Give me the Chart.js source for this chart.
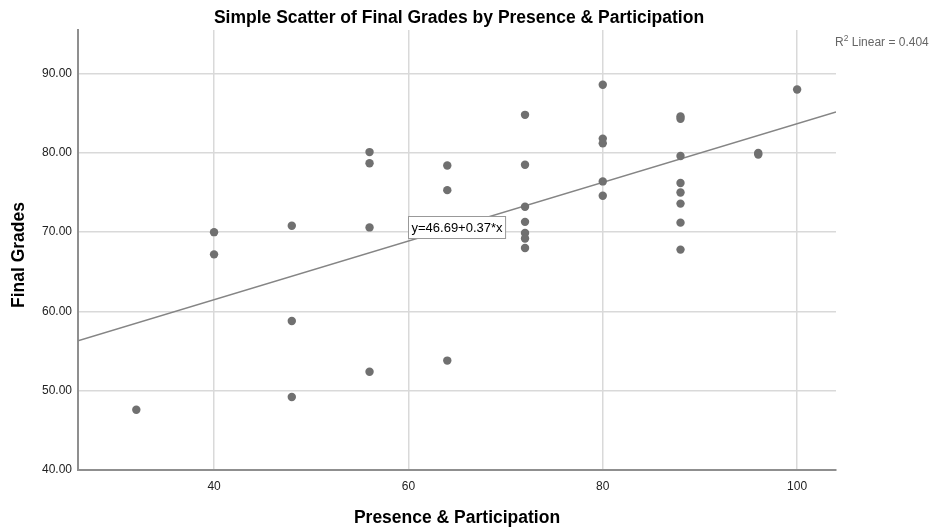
<!DOCTYPE html>
<html>
<head>
<meta charset="utf-8">
<script src="https://cdn.jsdelivr.net/npm/chart.js@4/dist/chart.umd.min.js"></script>
<style>
  html, body { margin: 0; padding: 0; background: #fff; }
  #wrap { width: 933px; height: 529px; }
</style>
</head>
<body>
<div id="wrap"><canvas id="chart" width="933" height="529"></canvas></div>
<script>
// presence & participation score for each student
const presence = [
  32,
  40, 40,
  48, 48, 48,
  56, 56, 56, 56,
  64, 64, 64,
  72, 72, 72, 72, 72, 72, 72,
  80, 80, 80, 80, 80,
  88, 88, 88, 88, 88, 88, 88, 88,
  96, 96,
  100
];
// final grade for the same students
const finalGrades = [
  47.6,
  70.0, 67.2,
  70.8, 58.8, 49.2,
  80.1, 78.7, 70.6, 52.4,
  78.4, 75.3, 53.8,
  84.8, 78.5, 73.2, 71.3, 69.9, 69.2, 68.0,
  88.6, 81.8, 81.2, 76.4, 74.6,
  84.6, 84.3, 79.6, 76.2, 75.0, 73.6, 71.2, 67.8,
  80.0, 79.8,
  88.0
];

// fitted line y = a + b*x
const fitIntercept = 46.69;
const fitSlope = 0.37;
const rSquared = 0.404;

const xTicks = [40, 60, 80, 100];
const yTicks = [40, 50, 60, 70, 80, 90];
const xRange = [26, 104];
const yRange = [40, 95.5];

const FONT = '"Liberation Sans", Arial, sans-serif';

const fitLine = xRange.map(x => ({ x: x, y: fitIntercept + fitSlope * x }));
const points = presence.map((x, i) => ({ x: x, y: finalGrades[i] }));

// titles, R² note and the equation label
const decorations = {
  id: 'decorations',
  afterDraw(chart) {
    const ctx = chart.ctx;
    const area = chart.chartArea;
    const xs = chart.scales.x;
    const ys = chart.scales.y;
    ctx.save();

    ctx.fillStyle = '#000';
    ctx.textAlign = 'center';
    ctx.textBaseline = 'alphabetic';
    ctx.font = 'bold 17.5px ' + FONT;
    ctx.fillText('Simple Scatter of Final Grades by Presence & Participation', 459, 22.5);
    ctx.fillText('Presence & Participation', (area.left + area.right) / 2, 522.5);

    ctx.save();
    ctx.translate(24, 255);
    ctx.rotate(-Math.PI / 2);
    ctx.fillText('Final Grades', 0, 0);
    ctx.restore();

    // R² Linear note
    ctx.fillStyle = '#666';
    ctx.textAlign = 'left';
    ctx.font = '12px ' + FONT;
    let x = 835;
    ctx.fillText('R', x, 46);
    x += ctx.measureText('R').width;
    ctx.font = '8.5px ' + FONT;
    ctx.fillText('2', x, 41);
    x += ctx.measureText('2').width;
    ctx.font = '12px ' + FONT;
    ctx.fillText(' Linear = ' + rSquared.toFixed(3), x, 46);

    // equation box
    const label = 'y=' + fitIntercept.toFixed(2) + '+' + fitSlope.toFixed(2) + '*x';
    ctx.font = '13px ' + FONT;
    const w = ctx.measureText(label).width + 6;
    const h = 22;
    const bx = Math.round(xs.getPixelForValue(60)) + 0.5;
    const by = Math.round(ys.getPixelForValue(70.7) - h / 2) + 0.5;
    ctx.fillStyle = '#fff';
    ctx.fillRect(bx, by, w, h);
    ctx.strokeStyle = '#999';
    ctx.lineWidth = 1;
    ctx.strokeRect(bx, by, w, h);
    ctx.fillStyle = '#000';
    ctx.textBaseline = 'middle';
    ctx.fillText(label, bx + 3, by + h / 2 + 0.5);

    ctx.restore();
  }
};

new Chart(document.getElementById('chart'), {
  type: 'scatter',
  data: {
    datasets: [
      {
        label: 'Final Grades',
        data: points,
        backgroundColor: '#707070',
        borderColor: '#707070',
        pointRadius: 4.2,
        pointBorderWidth: 0,
        order: 1
      },
      {
        label: 'Fit',
        data: fitLine,
        showLine: true,
        borderColor: '#858585',
        borderWidth: 1.5,
        pointRadius: 0,
        order: 2
      }
    ]
  },
  plugins: [decorations],
  options: {
    responsive: false,
    animation: false,
    layout: { padding: { top: 30, right: 97, left: 0, bottom: 0 } },
    plugins: {
      legend: { display: false },
      title: { display: false },
      tooltip: { enabled: false }
    },
    scales: {
      x: {
        type: 'linear',
        min: xRange[0],
        max: xRange[1],
        afterBuildTicks: scale => { scale.ticks = xTicks.map(v => ({ value: v })); },
        afterFit: scale => { scale.height = 59; },
        grid: { color: '#d9d9d9', lineWidth: 1.5, drawTicks: false },
        border: { display: true, color: '#8f8f8f', width: 2 },
        ticks: {
          padding: 9,
          color: '#222',
          font: { family: FONT, size: 12 },
          maxRotation: 0
        }
      },
      y: {
        type: 'linear',
        min: yRange[0],
        max: yRange[1],
        afterBuildTicks: scale => { scale.ticks = yTicks.map(v => ({ value: v })); },
        afterFit: scale => { scale.width = 78; },
        grid: { color: '#d9d9d9', lineWidth: 1.5, drawTicks: false },
        border: { display: true, color: '#8f8f8f', width: 2 },
        ticks: {
          padding: 6,
          color: '#222',
          font: { family: FONT, size: 12 },
          callback: v => v.toFixed(2)
        }
      }
    }
  }
});
</script>
</body>
</html>
